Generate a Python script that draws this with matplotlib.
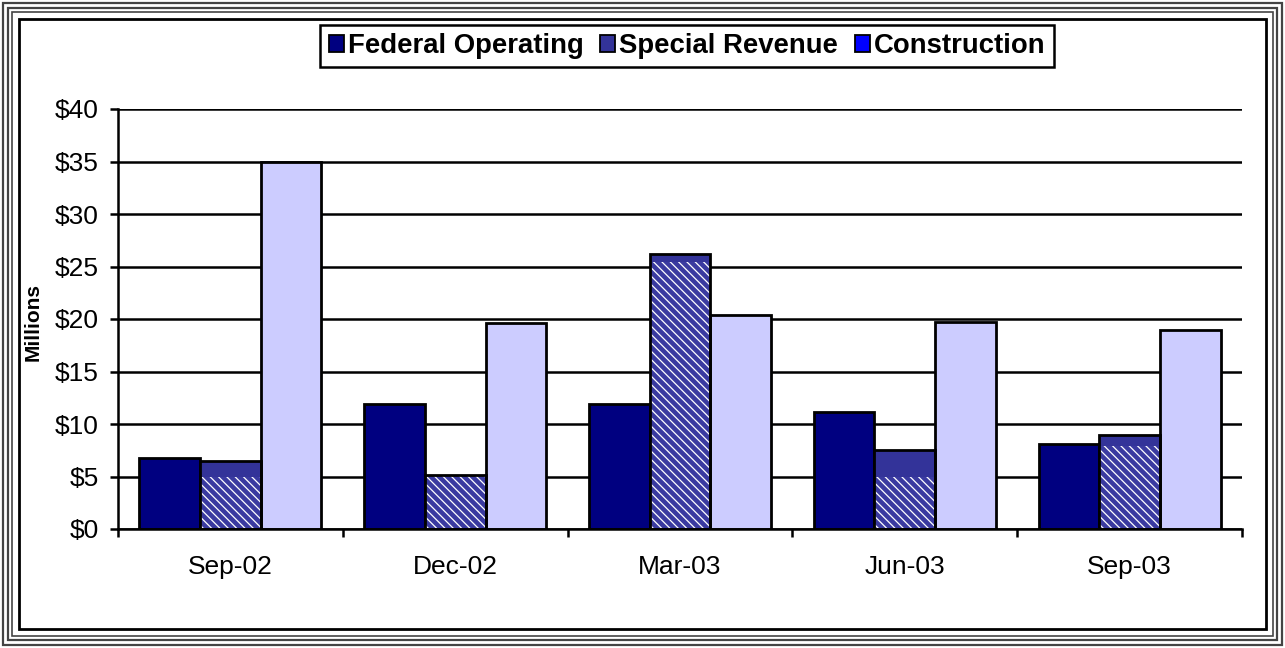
import numpy as np
import matplotlib
matplotlib.use('Agg')
import matplotlib.pyplot as plt
from matplotlib.patches import Patch, Rectangle

plt.rcParams['font.family'] = ['Liberation Sans', 'DejaVu Sans']
plt.rcParams['hatch.linewidth'] = 0.9

quarters = ['Sep-02', 'Dec-02', 'Mar-03', 'Jun-03', 'Sep-03']
federal = [6.8, 11.9, 11.9, 11.1, 8.1]
special = [6.5, 5.1, 26.2, 7.5, 9.0]
special_hatched = [5.0, 5.1, 25.4, 5.0, 7.9]   # hatched part as drawn in the original
construction = [35.0, 19.6, 20.4, 19.7, 19.0]

W, H = 1285, 648
fig = plt.figure(figsize=(W / 100, H / 100), dpi=100)
ax = fig.add_axes([118 / W, 1 - 529 / H, (1242 - 118) / W, (529 - 109) / H])

x = np.arange(len(quarters))
bw = 0.27
ax.bar(x - bw, federal, bw, color='#000080', edgecolor='black', linewidth=2, zorder=2)
ax.bar(x, special, bw, color='#333399', edgecolor='none', zorder=2)
ax.bar(x, special_hatched, bw, color='#3a3aa0', edgecolor='white', hatch='\\\\\\\\',
       linewidth=0, zorder=2)
ax.bar(x, special, bw, fill=False, edgecolor='black', linewidth=2, zorder=3)
ax.bar(x + bw, construction, bw, color='#CCCCFF', edgecolor='black', linewidth=2, zorder=2)

ax.set_xlim(-0.5, len(quarters) - 0.5)
ax.set_ylim(0, 40)
ax.set_yticks(range(0, 41, 5))
ax.set_yticklabels(['$%d' % v for v in range(0, 41, 5)])
ax.yaxis.grid(True, color='black', linewidth=1.8, zorder=0)
ax.set_axisbelow(True)

ax.set_xticks(np.arange(-0.5, len(quarters), 1.0))
ax.set_xticklabels([])
ax.set_xticks(x, minor=True)
ax.set_xticklabels(quarters, minor=True)
ax.tick_params(axis='x', which='major', direction='out', length=6, width=1.8)
ax.tick_params(axis='x', which='minor', length=0, pad=19, labelsize=19)
ax.tick_params(axis='y', direction='out', length=6, width=1.8, pad=8, labelsize=19)

for s in ['top', 'right']:
    ax.spines[s].set_visible(False)
for s in ['left', 'bottom']:
    ax.spines[s].set_linewidth(1.8)

fig.text(33 / W, 1 - 322 / H, 'Millions', rotation=90, ha='center', va='center',
         fontsize=15, fontweight='bold')

handles = [Patch(facecolor='#000080', edgecolor='black', linewidth=1.3),
           Patch(facecolor='#333399', edgecolor='black', linewidth=1.3),
           Patch(facecolor='#0000FF', edgecolor='black', linewidth=1.3)]
leg = fig.legend(handles, ['Federal Operating', 'Special Revenue', 'Construction'],
                 ncol=3, loc='center', bbox_to_anchor=(687 / W, 1 - 46 / H),
                 prop={'weight': 'bold', 'size': 19.8}, frameon=True, fancybox=False,
                 framealpha=1, edgecolor='black', borderpad=0.3, handlelength=0.55,
                 handleheight=0.55, handletextpad=0.15, columnspacing=0.6,
                 borderaxespad=0)
leg.get_frame().set_linewidth(1.8)

# chart area borders
for off, col, lw in [(3, '#444444', 1.6), (8, '#444444', 1.6), (12, '#444444', 1.2),
                     (19, 'black', 2.0)]:
    fig.patches.append(Rectangle((off / W, off / H), 1 - 2 * off / W, 1 - 2 * off / H,
                                 transform=fig.transFigure, fill=False,
                                 edgecolor=col, linewidth=lw))

fig.savefig('out.png', dpi=100)
